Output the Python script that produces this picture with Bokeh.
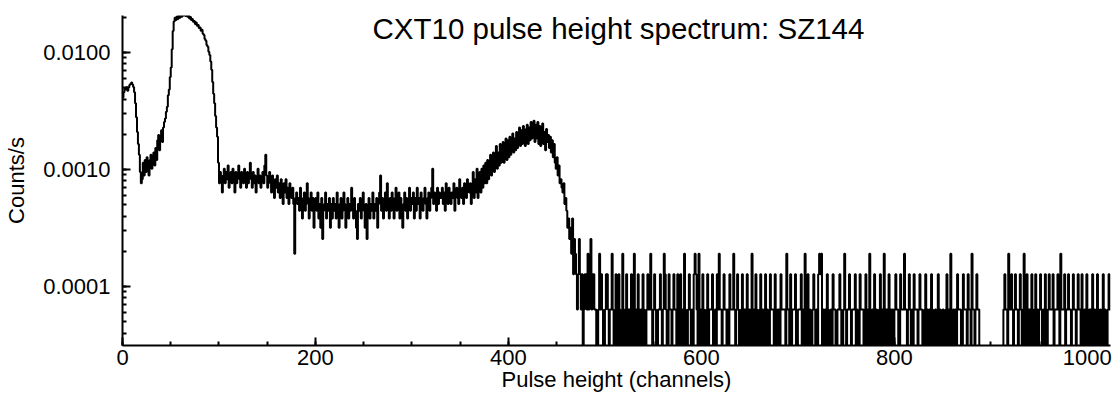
import numpy as np
from bokeh.plotting import figure
from bokeh.models import FixedTicker, PrintfTickFormatter, Label
from bokeh.embed import file_html
from bokeh.resources import INLINE

TITLE = "CXT10 pulse height spectrum: SZ144"
X_LABEL = "Pulse height (channels)"
Y_LABEL = "Counts/s"
COUNT_UNIT = 6.35e-5          # counts/s represented by one count in a channel
N_CHANNELS = 1024

x_major = [0, 200, 400, 600, 800, 1000]
y_major = [1e-4, 1e-3, 1e-2]

# counts per channel
counts_000_099 = [
    65, 72, 78, 76, 80, 74, 79, 83, 85, 87, 84, 80, 72, 58, 44, 33, 26, 21, 15, 12,
    13, 18, 14, 19, 15, 20, 16, 14, 19, 21, 16, 20, 22, 17, 24, 19, 28, 31, 23, 29,
    34, 27, 36, 40, 43, 49, 54, 68, 76, 97, 117, 168, 240, 290, 312, 298, 320, 305, 330, 312,
    336, 318, 345, 326, 338, 322, 340, 318, 330, 308, 316, 298, 305, 288, 292, 276, 284, 266, 270, 255,
    258, 242, 246, 228, 222, 205, 198, 182, 176, 160, 150, 132, 112, 88, 70, 58, 45, 36, 30, 18,
]
counts_100_199 = [
    12, 15, 13, 10, 14, 16, 12, 15, 13, 17, 11, 14, 15, 12, 16, 13, 10, 15, 12, 14,
    17, 13, 11, 15, 14, 12, 16, 13, 11, 15, 12, 14, 18, 13, 11, 15, 12, 14, 10, 13,
    16, 12, 14, 11, 13, 15, 12, 17, 21, 14, 11, 13, 15, 12, 10, 14, 12, 9, 13, 11,
    14, 10, 12, 9, 13, 11, 8, 12, 10, 13, 9, 11, 8, 12, 10, 9, 11, 8, 3, 9,
    10, 8, 9, 7, 11, 8, 6, 9, 10, 7, 8, 12, 9, 6, 8, 10, 7, 9, 5, 8,
]
counts_200_299 = [
    9, 7, 10, 6, 8, 5, 9, 4, 7, 8, 10, 6, 8, 7, 9, 5, 8, 6, 9, 7,
    8, 6, 10, 7, 5, 8, 9, 6, 7, 10, 8, 5, 7, 9, 6, 8, 7, 11, 8, 6,
    9, 7, 5, 4, 8, 7, 9, 6, 8, 10, 7, 5, 8, 4, 7, 9, 6, 8, 7, 10,
    6, 8, 7, 9, 5, 8, 10, 14, 7, 9, 6, 8, 10, 7, 12, 8, 6, 9, 7, 10,
    8, 6, 9, 11, 7, 8, 10, 6, 9, 7, 5, 8, 10, 7, 9, 6, 8, 11, 7, 9,
]
counts_300_399 = [
    8, 10, 6, 9, 7, 11, 8, 9, 6, 10, 8, 7, 9, 11, 8, 6, 9, 10, 7, 9,
    11, 16, 8, 10, 9, 7, 11, 8, 10, 9, 9, 11, 8, 10, 7, 12, 9, 8, 11, 10,
    8, 10, 9, 12, 7, 10, 11, 9, 8, 13, 10, 9, 11, 8, 12, 10, 9, 13, 11, 10,
    12, 8, 11, 15, 9, 13, 10, 16, 9, 14, 15, 10, 16, 11, 17, 12, 18, 12, 19, 13,
    18, 21, 14, 19, 22, 15, 20, 25, 16, 22, 17, 26, 18, 23, 27, 18, 24, 29, 19, 28,
]
counts_400_479 = [
    20, 30, 21, 27, 32, 22, 29, 23, 33, 24, 30, 36, 25, 34, 26, 37, 27, 25, 35, 38,
    26, 36, 28, 40, 29, 37, 41, 27, 38, 29, 40, 26, 37, 25, 34, 39, 26, 33, 23, 35,
    27, 31, 24, 30, 22, 28, 20, 26, 18, 16, 20, 14, 17, 12, 13, 11, 10, 12, 8, 9,
    7, 5, 6, 4, 5, 3, 6, 2, 4, 3, 2, 1, 2, 4, 2, 1, 2, 0, 1, 2,
]
counts_480_1023 = [
    2, 1, 3, 1, 2, 4, 1, 2, 2, 1, 1, 0, 0, 1, 3, 1, 2, 1, 0, 0, 1, 2, 2, 1, 0, 1, 1, 3, 1, 0, 0, 2,
    1, 0, 2, 1, 0, 0, 3, 1, 0, 1, 2, 0, 1, 1, 0, 2, 0, 1, 3, 0, 1, 0, 2, 1, 0, 1, 0, 2, 1, 0, 0, 1,
    2, 1, 1, 3, 1, 0, 1, 2, 1, 0, 0, 1, 1, 2, 1, 0, 1, 3, 2, 1, 0, 0, 2, 1, 1, 0, 1, 2, 1, 1, 0, 2,
    0, 1, 2, 0, 1, 0, 3, 1, 0, 0, 1, 2, 1, 0, 1, 0, 2, 3, 2, 1, 0, 3, 0, 1, 0, 2, 1, 0, 0, 1, 2, 0,
    1, 1, 1, 2, 0, 0, 1, 0, 2, 1, 3, 1, 1, 0, 1, 2, 1, 1, 0, 1, 0, 2, 1, 1, 1, 3, 1, 0, 1, 2, 1, 0,
    0, 1, 2, 0, 1, 1, 0, 2, 0, 1, 0, 1, 3, 0, 1, 0, 2, 1, 0, 0, 1, 2, 0, 1, 0, 1, 2, 0, 1, 0, 0, 2,
    1, 1, 1, 0, 2, 1, 0, 1, 1, 0, 2, 1, 1, 1, 1, 0, 3, 1, 1, 0, 2, 0, 1, 1, 1, 2, 0, 0, 1, 1, 1, 2,
    0, 1, 0, 3, 0, 1, 2, 0, 1, 0, 0, 1, 2, 1, 0, 1, 0, 2, 3, 2, 3, 0, 1, 0, 1, 0, 2, 1, 0, 0, 1, 0,
    2, 1, 1, 0, 0, 1, 1, 2, 1, 0, 0, 1, 3, 1, 0, 1, 1, 2, 1, 0, 1, 1, 1, 2, 0, 1, 0, 0, 2, 1, 1, 1,
    0, 1, 2, 0, 1, 0, 3, 1, 0, 1, 0, 2, 0, 1, 0, 0, 1, 2, 0, 1, 0, 3, 0, 1, 1, 0, 2, 0, 1, 0, 1, 0,
    1, 2, 1, 1, 0, 0, 2, 1, 1, 1, 3, 1, 1, 0, 1, 2, 1, 0, 1, 0, 2, 1, 1, 1, 0, 1, 2, 1, 1, 0, 0, 1,
    2, 0, 1, 0, 1, 0, 2, 1, 0, 0, 1, 0, 1, 2, 0, 1, 0, 0, 1, 0, 0, 1, 2, 0, 1, 0, 3, 1, 0, 1, 0, 1,
    0, 2, 1, 1, 1, 0, 0, 2, 1, 1, 1, 0, 2, 1, 1, 0, 3, 1, 1, 0, 1, 2, 1, 1, 0, 0, 0, 0, 0, 0, 0, 0,
    0, 0, 0, 0, 0, 0, 0, 0, 0, 0, 0, 0, 0, 0, 0, 0, 0, 1, 2, 1, 1, 0, 3, 1, 1, 2, 1, 0, 1, 2, 1, 1,
    0, 1, 2, 1, 0, 1, 3, 0, 1, 2, 0, 1, 1, 0, 2, 1, 0, 1, 2, 0, 1, 0, 1, 2, 1, 0, 1, 0, 2, 1, 0, 1,
    2, 1, 1, 1, 2, 0, 1, 1, 1, 2, 1, 0, 3, 1, 1, 1, 2, 0, 1, 1, 2, 1, 1, 0, 1, 2, 1, 1, 0, 1, 2, 1,
    1, 0, 2, 1, 0, 1, 0, 2, 1, 0, 1, 1, 0, 2, 0, 1, 0, 1, 2, 0, 0, 1, 0, 1, 2, 0, 1, 0, 0, 1, 2, 1,
]

counts = np.array(counts_000_099 + counts_100_199 + counts_200_299 +
                  counts_300_399 + counts_400_479 + counts_480_1023, dtype=float)
rate = counts * COUNT_UNIT
rate[counts == 0] = 1e-7           # empty channels fall off the log axis
edges = np.arange(len(rate) + 1)
step_y = np.append(rate, rate[-1])

p = figure(width=1115, height=398, x_range=(0, N_CHANNELS), y_range=(3.13e-5, 0.0207),
           y_axis_type="log", output_backend="svg", toolbar_location=None,
           min_border_left=122, min_border_right=5, min_border_top=15, min_border_bottom=53)
p.outline_line_color = None
p.grid.visible = False
p.background_fill_color = "white"
p.border_fill_color = "white"

p.step(edges, step_y, mode="after", line_color="black", line_width=2)

FONT = "Liberation Sans"
for ax in (p.xaxis[0], p.yaxis[0]):
    ax.axis_line_width = 2
    ax.axis_line_color = "black"
    ax.major_tick_in = 8
    ax.major_tick_out = 0
    ax.minor_tick_in = 4
    ax.minor_tick_out = 0
    ax.major_tick_line_width = 2
    ax.minor_tick_line_width = 2
    ax.major_label_text_font = FONT
    ax.major_label_text_font_size = "22px"
    ax.major_label_text_color = "black"
    ax.axis_label_text_font = FONT
    ax.axis_label_text_font_size = "22px"
    ax.axis_label_text_font_style = "normal"
    ax.axis_label_text_color = "black"

p.xaxis.ticker = FixedTicker(ticks=x_major, minor_ticks=list(range(0, N_CHANNELS + 1, 50)))
p.xaxis.formatter = PrintfTickFormatter(format="%d")
p.xaxis.axis_label = X_LABEL
p.xaxis.major_label_standoff = 4
p.xaxis.axis_label_standoff = -1

p.yaxis.ticker = FixedTicker(ticks=y_major,
                             minor_ticks=[m * 10.0 ** e for e in (-5, -4, -3, -2) for m in range(1, 10)])
p.yaxis.formatter = PrintfTickFormatter(format="%.4f")
p.yaxis.axis_label = Y_LABEL
p.yaxis.major_label_standoff = 12
p.yaxis.axis_label_standoff = 11

# title at the very top edge, kept fully visible
p.add_layout(Label(x=514, y=0.0160, text=TITLE, text_align="center", text_baseline="alphabetic",
                   text_font=FONT, text_font_size="29.5px", text_color="black"))

open("out.html", "w").write(file_html(p, INLINE))
